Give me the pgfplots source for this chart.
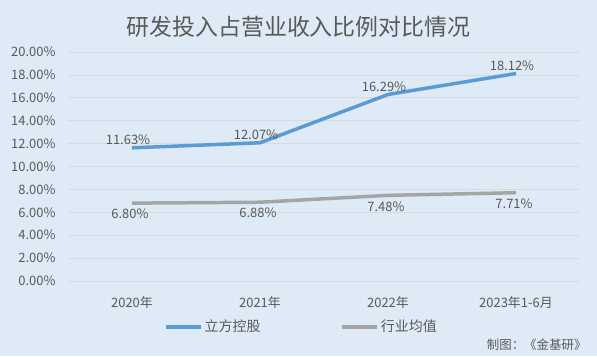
\documentclass[border=0pt]{standalone}
\usepackage{pgfplots}
\pgfplotsset{compat=1.18}
\usepackage{fontspec}
\setmainfont{Noto Sans CJK SC}
\definecolor{bg}{RGB}{222,234,246}
\definecolor{txt}{RGB}{89,89,89}
\definecolor{grd}{RGB}{217,217,217}
\definecolor{blueL}{RGB}{91,155,213}
\definecolor{grayL}{RGB}{165,165,165}
\begin{document}
\begin{tikzpicture}[x=1bp,y=1bp]
\fill[bg] (0,0) rectangle (597,356);
\node[text=txt,font=\fontsize{23}{26}\selectfont] at (298.5,329) {研发投入占营业收入比例对比情况};
\node[text=txt,font=\fontsize{12.5}{14}\selectfont,anchor=east] at (590,11) {制图：《金基研》};
\begin{axis}[
  at={(68bp,75bp)}, anchor=south west,
  scale only axis, width=512bp, height=229bp,
  xmin=-0.5, xmax=3.5, ymin=0, ymax=20,
  xtick={0,1,2,3},
  xticklabels={2020年,2021年,2022年,2023年1-6月},
  ytick={0,2,...,20},
  yticklabel={\pgfmathprintnumber[fixed,fixed zerofill,precision=2]{\tick}\%},
  /pgf/number format/assume math mode=true,
  axis line style={draw=none},
  major tick length=0pt,
  ymajorgrids, grid style={grd, line width=0.8pt},
  tick label style={text=txt,font=\fontsize{13}{15}\selectfont},
  yticklabel style={xshift=-9bp},
  xticklabel style={yshift=-12bp},
  legend style={at={(0.456,-0.2)},anchor=center,draw=none,fill=none,
    legend columns=2, font=\fontsize{14}{16}\selectfont, text=txt,
    /tikz/every even column/.append style={column sep=78bp},
    /tikz/every odd column/.append style={inner xsep=1bp}},
  legend image code/.code={\draw[#1,line width=3.5pt] (0,0) -- (35bp,0);},
  nodes near coords={\pgfmathprintnumber[fixed,fixed zerofill,precision=2]{\pgfplotspointmeta}\%},
  every node near coord/.append style={text=txt,font=\fontsize{13}{15}\selectfont,
    /pgf/number format/assume math mode=true},
]
\addplot[blueL, line width=3.5pt, every node near coord/.append style={anchor=south, yshift=-2bp, xshift=-4bp}] coordinates {(0,11.63) (1,12.07) (2,16.29) (3,18.12)};
\addlegendentry{立方控股}
\addplot[grayL, line width=3.5pt, every node near coord/.append style={anchor=north, yshift=-1bp, xshift=-2bp}] coordinates {(0,6.80) (1,6.88) (2,7.48) (3,7.71)};
\addlegendentry{行业均值}
\end{axis}
\end{tikzpicture}
\end{document}
